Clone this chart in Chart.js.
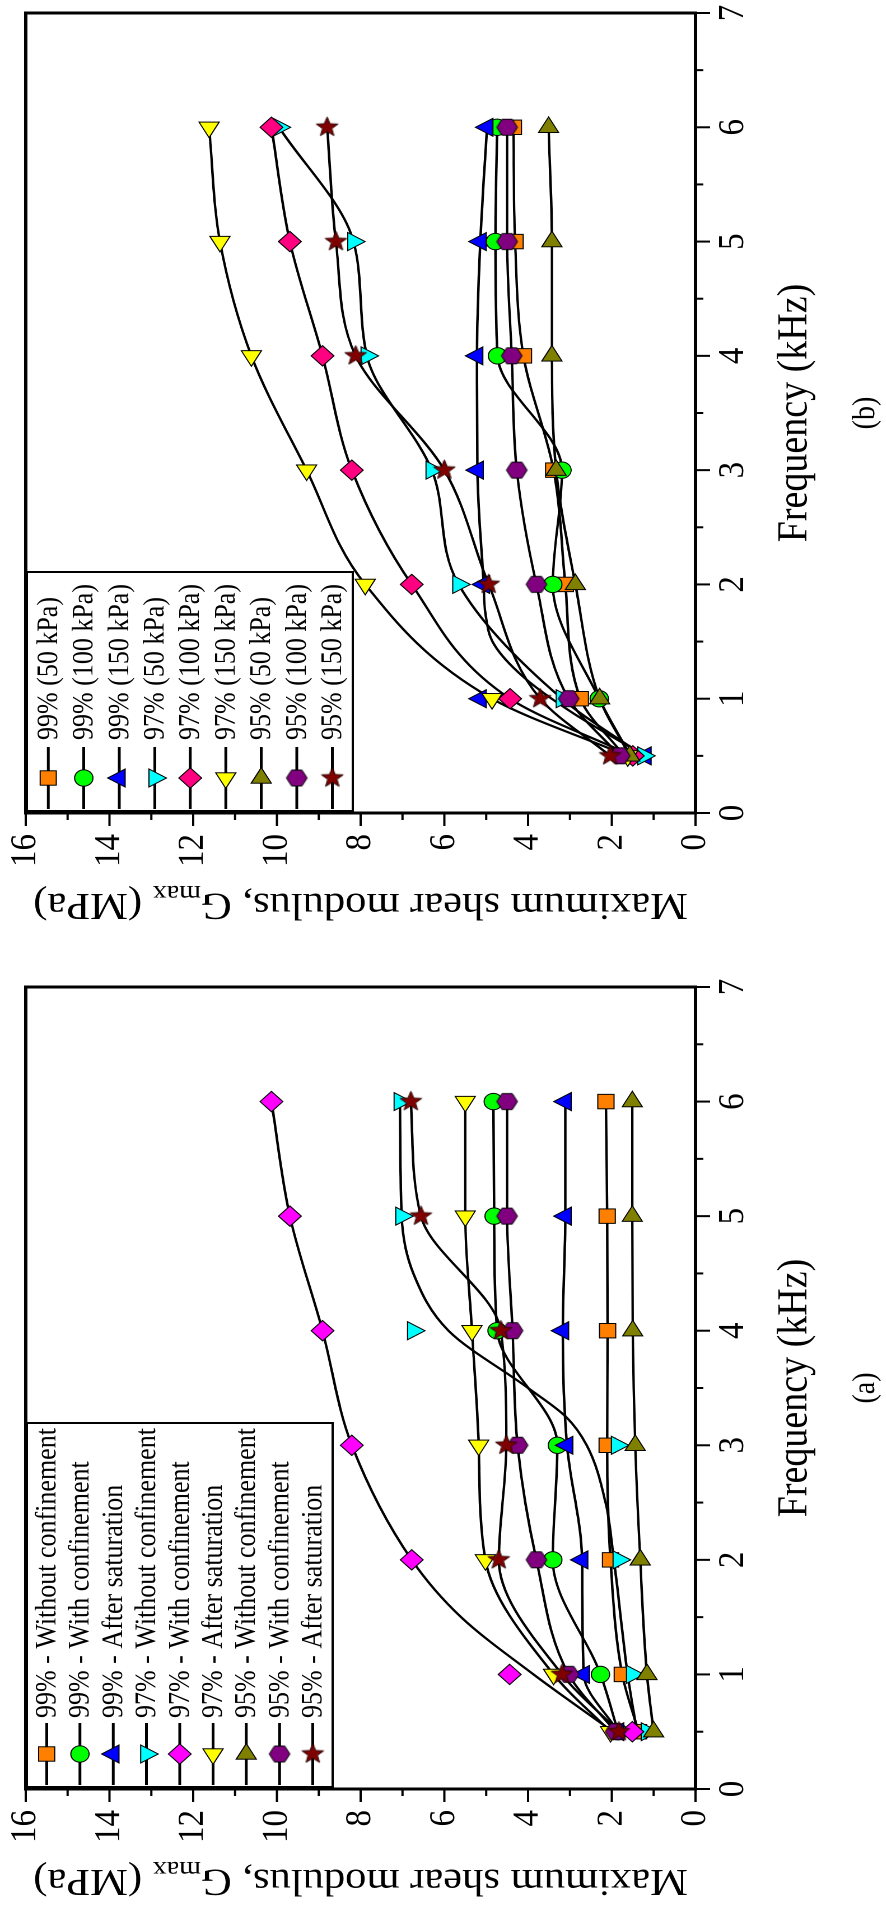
<!DOCTYPE html>
<html>
<head>
<meta charset="utf-8">
<script src="https://cdn.jsdelivr.net/npm/chart.js@4.4.0/dist/chart.umd.min.js"></script>
<style>
  html, body { margin: 0; padding: 0; background: #fff; overflow: hidden; }
  #page { position: relative; width: 886px; height: 1915px; overflow: hidden; background: #fff; }
  /* the two panels are laid out side by side, then the sheet is turned a quarter turn */
  #fig { position: absolute; left: 0; top: 0; width: 1915px; height: 791px;
         transform-origin: 0 0; transform: translateY(1915px) rotate(-90deg) scale(1, 1.12); }
  #fig canvas { position: absolute; top: 0; }
</style>
</head>
<body>
<div id="page">
  <div id="fig">
    <canvas id="panelA" width="957" height="791" style="left:0px"></canvas>
    <canvas id="panelB" width="939" height="791" style="left:976px"></canvas>
  </div>
</div>
<script>
// ---- axes ----
const freqKHz = [0.5, 1, 2, 3, 4, 5, 6];
const freqTickValues = [0, 1, 2, 3, 4, 5, 6, 7];
const freqMinorTicks = [0.5, 1.5, 2.5, 3.5, 4.5, 5.5, 6.5];
const modulusTickValues = [0, 2, 4, 6, 8, 10, 12, 14, 16];
const modulusMinorTicks = [1, 3, 5, 7, 9, 11, 13, 15];

// ---- (a) Gmax (MPa) per condition ----
const a99Without = [1.36, 1.75, 2.03, 2.11, 2.10, 2.11, 2.14];
const a99With    = [1.85, 2.27, 3.41, 3.30, 4.74, 4.81, 4.83];
const a99After   = [1.85, 2.67, 2.71, 3.07, 3.17, 3.11, 3.11];
const a97Without = [1.16, 1.51, 1.83, 1.87, 6.74, 7.02, 7.06];
const a97With    = [1.51, 4.44, 6.78, 8.21, 8.91, 9.69, 10.13];
const a97After   = [2.03, 3.39, 5.02, 5.18, 5.34, 5.50, 5.50];
const a95Without = [1.00, 1.16, 1.32, 1.44, 1.50, 1.51, 1.51];
const a95With    = [1.91, 3.03, 3.80, 4.25, 4.37, 4.50, 4.50];
const a95After   = [1.83, 3.19, 4.70, 4.52, 4.65, 6.56, 6.80];

// fitted curves of (a) that leave the measured points
const a97WithFitF    = [0.5, 1, 1.5, 2, 3, 4, 5, 6];
const a97WithFitG    = [1.97, 3.87, 5.60, 6.78, 8.21, 8.91, 9.69, 10.13];
const a97WithoutFitF = [0.5, 1, 2, 2.5, 3, 3.25, 3.5, 4, 4.5, 5, 6];
const a97WithoutFitG = [1.40, 1.62, 1.95, 2.15, 2.60, 3.10, 4.00, 5.90, 6.74, 7.02, 7.06];

// ---- (b) Gmax (MPa) per confining pressure ----
const b99p50  = [1.70, 2.75, 3.11, 3.39, 4.11, 4.31, 4.35];
const b99p100 = [1.55, 2.30, 3.41, 3.19, 4.73, 4.78, 4.74];
const b99p150 = [1.20, 5.14, 5.06, 5.21, 5.22, 5.14, 4.98];
const b97p50  = [1.24, 3.19, 5.66, 6.30, 7.85, 8.17, 9.95];
const b97p100 = [1.50, 4.43, 6.78, 8.21, 8.91, 9.69, 10.13];
const b97p150 = [1.62, 4.86, 7.89, 9.29, 10.61, 11.36, 11.62];
const b95p50  = [1.57, 2.29, 2.87, 3.33, 3.43, 3.43, 3.51];
const b95p100 = [1.81, 3.03, 3.80, 4.27, 4.39, 4.50, 4.50];
const b95p150 = [2.04, 3.71, 4.94, 6.00, 8.12, 8.59, 8.80];

// fitted curve of (b) that leaves the measured points
const b99p150FitF = [0.5, 0.87, 1.19, 1.48, 1.75, 2, 3, 4, 5, 6];
const b99p150FitG = [1.20, 2.91, 4.11, 4.82, 5.02, 5.06, 5.21, 5.22, 5.14, 4.98];

// ---- legend texts ----
const legendA = ['99% - Without confinement', '99% - With confinement', '99% - After saturation',
                 '97% - Without confinement', '97% - With confinement', '97% - After saturation',
                 '95% - Without confinement', '95% - With confinement', '95% - After saturation'];
const legendB = ['99% (50 kPa)', '99% (100 kPa)', '99% (150 kPa)',
                 '97% (50 kPa)', '97% (100 kPa)', '97% (150 kPa)',
                 '95% (50 kPa)', '95% (100 kPa)', '95% (150 kPa)'];

const FONT = '"Liberation Serif", "Times New Roman", serif';

// ---- marker styles ----
function makeHexagon(r, fill) {
  const s = Math.ceil(2 * r + 4);
  const c = document.createElement('canvas');
  c.width = s; c.height = s;
  const g = c.getContext('2d');
  g.translate(s / 2, s / 2);
  g.beginPath();
  for (let i = 0; i < 6; i++) {
    const ang = Math.PI / 2 + i * Math.PI / 3;
    g.lineTo(r * Math.cos(ang), r * Math.sin(ang));
  }
  g.closePath();
  g.fillStyle = fill; g.fill();
  g.strokeStyle = '#000'; g.lineWidth = 1; g.stroke();
  return c;
}
function makeStar(rOut, rIn, fill) {
  const s = Math.ceil(2 * rOut + 4);
  const c = document.createElement('canvas');
  c.width = s; c.height = s;
  const g = c.getContext('2d');
  g.translate(s / 2, s / 2);
  g.beginPath();
  for (let i = 0; i < 10; i++) {
    const ang = i * Math.PI / 5;
    const rr = i % 2 ? rIn : rOut;
    g.lineTo(rr * Math.cos(ang), rr * Math.sin(ang));
  }
  g.closePath();
  g.fillStyle = fill; g.fill();
  g.strokeStyle = '#2a0000'; g.lineWidth = 1; g.stroke();
  return c;
}

const hexagon = makeHexagon(9.2, '#800080');
const star = makeStar(10.2, 4.3, '#800000');

// rotations are given so the shapes face the right way once the sheet is turned
function markerStyles(diamondColor) {
  return [
    { style: 'rect',     rot: 0,   r: 10.2, color: '#FF8000' },
    { style: 'circle',   rot: 0,   r: 8.2,  color: '#00FF00' },
    { style: 'triangle', rot: 0,   r: 10.4, color: '#0000FF' },
    { style: 'triangle', rot: 180, r: 10.4, color: '#00FFFF' },
    { style: 'rectRot',  rot: 0,   r: 10.2, color: diamondColor },
    { style: 'triangle', rot: 270, r: 10.4, color: '#FFFF00' },
    { style: 'triangle', rot: 90,  r: 10.4, color: '#808000' },
    { style: hexagon,    rot: 0,   r: 9.2,  color: '#800080' },
    { style: star,       rot: 0,   r: 10.2, color: '#800000' }
  ];
}

function buildDatasets(markers, curves, styles) {
  const ds = [];
  markers.forEach((vals, i) => {
    const c = curves[i] || { f: freqKHz, g: vals };
    ds.push({
      data: c.f.map((f, j) => ({ x: f, y: c.g[j] })),
      showLine: true, pointRadius: 0, borderColor: '#000', borderWidth: 2.2,
      cubicInterpolationMode: 'monotone', fill: false, order: 100
    });
  });
  markers.forEach((vals, i) => {
    const st = styles[i];
    ds.push({
      data: freqKHz.map((f, j) => ({ x: f, y: vals[j] })),
      showLine: false, pointStyle: st.style, pointRadius: st.r, pointRotation: st.rot,
      pointBackgroundColor: st.color, pointBorderColor: '#000', pointBorderWidth: 1,
      order: 20 - i
    });
  });
  return ds;
}

function decorPlugin(cfg) {
  return {
    id: 'decor',
    afterDatasetsDraw(chart) {
      const ctx = chart.ctx, a = chart.chartArea;
      const xs = chart.scales.x, ys = chart.scales.y;
      ctx.save();
      ctx.strokeStyle = '#000';
      ctx.fillStyle = '#000';

      // tick marks
      ctx.lineWidth = 2;
      ctx.beginPath();
      freqTickValues.forEach(v => { const p = xs.getPixelForValue(v); ctx.moveTo(p, a.bottom); ctx.lineTo(p, a.bottom + 13); });
      freqMinorTicks.forEach(v => { const p = xs.getPixelForValue(v); ctx.moveTo(p, a.bottom); ctx.lineTo(p, a.bottom + 7); });
      modulusTickValues.forEach(v => { const p = ys.getPixelForValue(v); ctx.moveTo(a.left, p); ctx.lineTo(a.left - 13, p); });
      modulusMinorTicks.forEach(v => { const p = ys.getPixelForValue(v); ctx.moveTo(a.left, p); ctx.lineTo(a.left - 7, p); });
      ctx.stroke();

      // frame
      ctx.lineWidth = 3;
      ctx.strokeRect(a.left, a.top, a.right - a.left, a.bottom - a.top);

      // legend box
      const L = cfg.legend;
      ctx.fillStyle = '#fff';
      ctx.fillRect(a.left + 2, a.top + 1, L.boxW, L.boxBottom - a.top - 1);
      ctx.lineWidth = 2;
      ctx.strokeRect(a.left + 2, a.top + 1, L.boxW, L.boxBottom - a.top - 1);
      ctx.font = '26px ' + FONT;
      ctx.textAlign = 'left';
      ctx.textBaseline = 'middle';
      L.labels.forEach((txt, i) => {
        const yy = L.row0 + i * L.step;
        ctx.strokeStyle = '#000';
        ctx.lineWidth = 2.5;
        ctx.beginPath();
        ctx.moveTo(a.left + 4, yy); ctx.lineTo(a.left + 66, yy);
        ctx.stroke();
        const st = cfg.styles[i];
        ctx.fillStyle = st.color;
        ctx.strokeStyle = '#000';
        ctx.lineWidth = 1;
        Chart.helpers.drawPoint(ctx, { pointStyle: st.style, rotation: st.rot, radius: st.r, borderWidth: 1 }, a.left + 35, yy);
        ctx.fillStyle = '#000';
        ctx.fillText(txt, a.left + L.textX, yy + 1);
      });

      // frequency axis title and panel letter
      ctx.fillStyle = '#000';
      ctx.textAlign = 'center';
      ctx.textBaseline = 'middle';
      ctx.font = '38px ' + FONT;
      ctx.fillText('Frequency (kHz)', (a.left + a.right) / 2, a.bottom + 89);
      ctx.font = '28px ' + FONT;
      ctx.fillText(cfg.panelLabel, (a.left + a.right) / 2, a.bottom + 152);

      // modulus axis title with subscript
      ctx.translate(a.left - 94, (a.top + a.bottom) / 2);
      ctx.rotate(-Math.PI / 2);
      const fBig = '38px ' + FONT, fSub = '25px ' + FONT;
      const p1 = 'Maximum shear modulus, G', p2 = 'max', p3 = ' (MPa)';
      ctx.font = fBig; const w1 = ctx.measureText(p1).width, w3 = ctx.measureText(p3).width;
      ctx.font = fSub; const w2 = ctx.measureText(p2).width;
      let sx = -(w1 + w2 + w3) / 2;
      ctx.textAlign = 'left';
      ctx.textBaseline = 'alphabetic';
      ctx.font = fBig; ctx.fillText(p1, sx, 13); sx += w1;
      ctx.font = fSub; ctx.fillText(p2, sx, 21); sx += w2;
      ctx.font = fBig; ctx.fillText(p3, sx, 13);
      ctx.restore();
    }
  };
}

function makeChart(canvasId, datasets, padRight, cfg) {
  return new Chart(document.getElementById(canvasId), {
    type: 'scatter',
    data: { datasets },
    options: {
      responsive: false,
      maintainAspectRatio: false,
      devicePixelRatio: 2,
      animation: false,
      events: [],
      layout: { padding: { left: 0, right: padRight, top: 23, bottom: 0 } },
      plugins: { legend: { display: false }, tooltip: { enabled: false } },
      scales: {
        x: {
          type: 'linear', min: 0, max: 7,
          afterBuildTicks: s => { s.ticks = freqTickValues.map(v => ({ value: v })); },
          afterFit: s => { s.height = 170; s.paddingLeft = 0; s.paddingRight = 0; },
          grid: { display: false, drawTicks: false },
          border: { display: false },
          ticks: { autoSkip: false, maxRotation: 0, padding: 14, color: '#000', font: { family: FONT, size: 33 } }
        },
        y: {
          type: 'linear', min: 0, max: 16,
          afterBuildTicks: s => { s.ticks = modulusTickValues.map(v => ({ value: v })); },
          afterFit: s => { s.width = 126; s.paddingTop = 0; s.paddingBottom = 0; },
          grid: { display: false, drawTicks: false },
          border: { display: false },
          ticks: { autoSkip: false, padding: 21, color: '#000', font: { family: FONT, size: 33 } }
        }
      }
    },
    plugins: [decorPlugin(cfg)]
  });
}

// ---- panel (a) ----
const stylesA = markerStyles('#FF00FF');
const markersA = [a99Without, a99With, a99After, a97Without, a97With, a97After, a95Without, a95With, a95After];
const curvesA = [];
curvesA[3] = { f: a97WithoutFitF, g: a97WithoutFitG };
curvesA[4] = { f: a97WithFitF, g: a97WithFitG };
makeChart('panelA', buildDatasets(markersA, curvesA, stylesA), 29, {
  panelLabel: '(a)', styles: stylesA,
  legend: { labels: legendA, boxW: 364, boxBottom: 297, row0: 41.7, step: 29.7, textX: 71 }
});

// ---- panel (b) ----
const stylesB = markerStyles('#FF0080');
const markersB = [b99p50, b99p100, b99p150, b97p50, b97p100, b97p150, b95p50, b95p100, b95p150];
const curvesB = [];
curvesB[2] = { f: b99p150FitF, g: b99p150FitG };
makeChart('panelB', buildDatasets(markersB, curvesB, stylesB), 13, {
  panelLabel: '(b)', styles: stylesB,
  legend: { labels: legendB, boxW: 239, boxBottom: 315, row0: 43.1, step: 31.7, textX: 73 }
});
</script>
</body>
</html>
